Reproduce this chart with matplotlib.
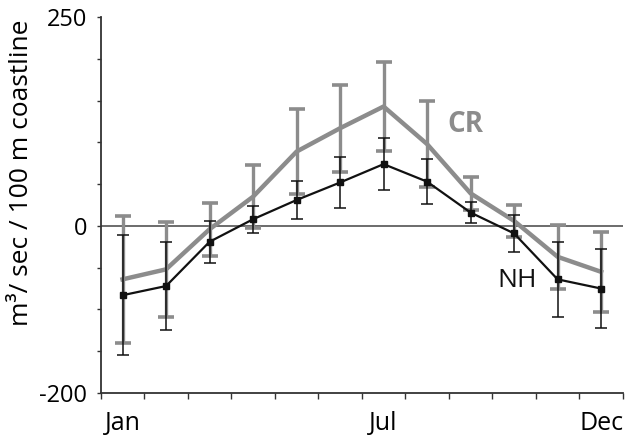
import matplotlib.pyplot as plt
import numpy as np

plt.rcParams['font.family'] = ['Open Sans', 'DejaVu Sans']

# monthly flux, Jan..Dec
months = np.arange(12) + 0.5
cr = [-64, -52, -4, 35, 89, 117, 143, 98, 39, 6, -37, -55]
cr_err = [76, 57, 32, 38, 51, 52, 53, 51, 20, 19, 38, 48]
nh = [-83, -72, -19, 8, 31, 52, 74, 53, 16, -9, -64, -75]
nh_err = [72, 53, 25, 16, 23, 30, 31, 27, 13, 22, 45, 47]

gray = '#8c8c8c'

fig = plt.figure(figsize=(6.26, 4.40), dpi=100)
ax = fig.add_axes([0.161, 0.107, 0.834, 0.854])

ax.axhline(0, color='#444444', lw=1.1, zorder=1)

ax.errorbar(months, cr, yerr=cr_err, color=gray, lw=3.2, elinewidth=2.4,
            capsize=6, capthick=2.6, zorder=2)
ax.errorbar(months, nh, yerr=nh_err, color='#111111', lw=1.6, elinewidth=1.1,
            capsize=4.5, capthick=1.1, marker='s', ms=4.5, zorder=3)

ax.text(8.37, 122, 'CR', color=gray, fontsize=20, fontweight='bold',
        ha='center', va='center')
ax.text(9.56, -65, 'NH', color='#111111', fontsize=19,
        ha='center', va='center')

ax.set_xlim(0, 12)
ax.set_ylim(-200, 250)
ax.set_xticks(np.arange(13))
ax.set_xticklabels([])
ax.set_xticks([0.5, 6.5, 11.5], minor=True)
ax.set_xticklabels(['Jan', 'Jul', 'Dec'], minor=True, fontsize=18)
ax.tick_params(axis='x', which='major', direction='out', length=4, width=1, color='#333333')
ax.tick_params(axis='x', which='minor', length=0, pad=13)

ax.set_yticks([-200, 0, 250])
ax.set_yticklabels(['-200', '0', '250'], fontsize=17)
ax.set_yticks(np.arange(-200, 251, 50), minor=True)
ax.tick_params(axis='y', which='both', direction='out', length=3, width=1, color='#333333')
ax.tick_params(axis='y', which='major', pad=7)

for s in ['top', 'right']:
    ax.spines[s].set_visible(False)
for s in ['left', 'bottom']:
    ax.spines[s].set_color('#333333')
    ax.spines[s].set_linewidth(1.3)

fig.text(21.5 / 626, 1 - 173 / 440, 'm³/ sec / 100 m coastline', fontsize=19,
         rotation=90, ha='center', va='center')

fig.savefig('out.png', dpi=100)
